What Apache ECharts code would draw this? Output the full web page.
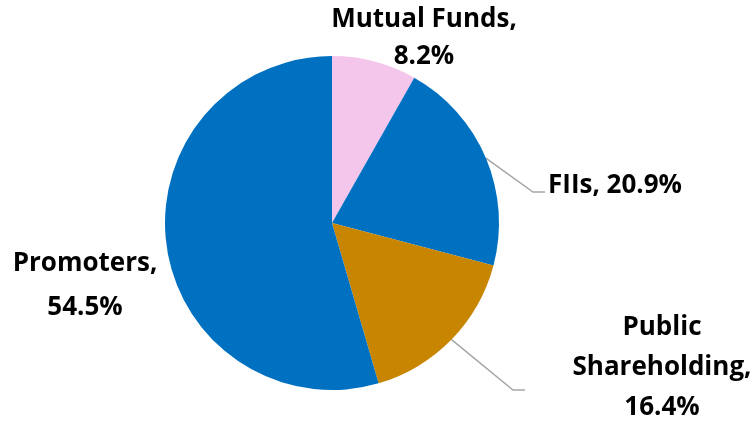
<!DOCTYPE html>
<html><head><meta charset="utf-8">
<script src="https://cdn.jsdelivr.net/npm/echarts@6/dist/echarts.min.js"></script>
<style>html,body{margin:0;padding:0;background:#fff}#c{width:756px;height:423px}</style>
</head><body><div id="c"></div>
<script>
const categories = ['Mutual Funds', 'FIIs', 'Public Shareholding', 'Promoters'];
const values = [8.2, 20.9, 16.4, 54.5];
const labelTexts = ['Mutual Funds,\n8.2%', 'FIIs, 20.9%', 'Public\nShareholding,\n16.4%', 'Promoters,\n54.5%'];
const colors = ['#F4C6EC', '#0070C0', '#C78500', '#0070C0'];

// label placement (layout, not data)
const labelPos = [
  {x: 424, y: 38, align: 'center', lh: 37},
  {x: 548, y: 186, align: 'left', lh: 30},
  {x: 662, y: 368, align: 'center', lh: 40},
  {x: 85, y: 286, align: 'center', lh: 44}
];
// leader line bend/end points (layout): [bendX, endX, y]
const lineEnds = [null, [533, 545, 192], [513, 525, 390], null];
const showLine = [false, true, true, false];

const chart = echarts.init(document.getElementById('c'));
chart.setOption({
  animation: false,
  series: [{
    type: 'pie',
    center: [332, 223],
    radius: [0, 167],
    startAngle: 90,
    clockwise: true,
    avoidLabelOverlap: false,
    data: categories.map((n, i) => ({
      name: n, value: values[i],
      itemStyle: {color: colors[i]},
      label: {formatter: labelTexts[i], lineHeight: labelPos[i].lh},
      labelLine: {show: showLine[i]}
    })),
    label: {
      show: true, position: 'outside', color: '#000',
      fontFamily: 'Open Sans', fontWeight: 'bold', fontSize: 26, align: 'center'
    },
    labelLine: {lineStyle: {color: '#A6A6A6', width: 1.5}, length: 30, length2: 12},
    labelLayout: function (p) {
      const i = p.dataIndex;
      const lp = labelPos[i];
      const res = {x: lp.x, y: lp.y, align: lp.align, verticalAlign: 'middle'};
      const le = lineEnds[i];
      if (le && p.labelLinePoints) {
        const s = p.labelLinePoints[0];
        res.labelLinePoints = [[s[0], s[1]], [le[0], le[2]], [le[1], le[2]]];
      }
      return res;
    }
  }]
});
</script></body></html>
